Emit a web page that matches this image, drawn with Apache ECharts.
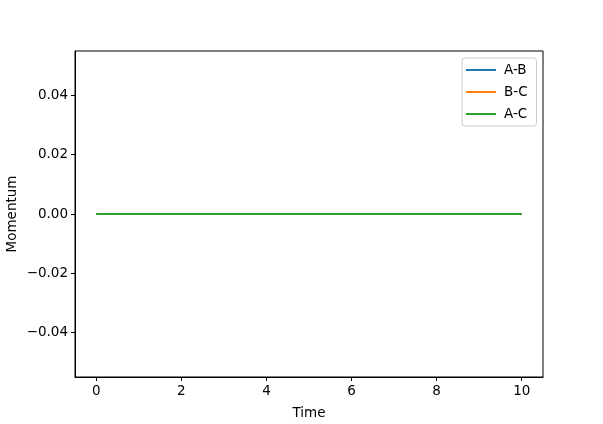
<!DOCTYPE html>
<html><head><meta charset="utf-8">
<script src="https://cdn.jsdelivr.net/npm/echarts@6/dist/echarts.min.js"></script>
<style>html,body{margin:0;padding:0;background:#fff}#c{width:603px;height:424px}</style>
</head><body><div id="c"></div>
<script>
const time = [0, 1, 2, 3, 4, 5, 6, 7, 8, 9, 10];
const momentumAB = [0, 0, 0, 0, 0, 0, 0, 0, 0, 0, 0];
const momentumBC = [0, 0, 0, 0, 0, 0, 0, 0, 0, 0, 0];
const momentumAC = [0, 0, 0, 0, 0, 0, 0, 0, 0, 0, 0];
const seriesNames = ['A-B', 'B-C', 'A-C'];
const xTicks = [0, 2, 4, 6, 8, 10];
const yTicks = [-0.04, -0.02, 0, 0.02, 0.04];
const colors = ['#1f77b4', '#ff7f0e', '#2ca02c'];
const font = 'DejaVu Sans';
const fs = 13.5;
const chart = echarts.init(document.getElementById('c'), null, {renderer: 'canvas'});
const data = [momentumAB, momentumBC, momentumAC];
chart.setOption({
  animation: false,
  textStyle: {fontFamily: font},
  grid: {left: 75, top: 51, width: 468, height: 326, containLabel: false, outerBoundsMode: 'none',
    show: true, borderColor: '#000', borderWidth: 1, backgroundColor: 'transparent'},
  legend: {
    orient: 'vertical', left: 462, top: 58,
    data: seriesNames.map((n, i) => ({name: n, icon: 'rect', itemStyle: {color: colors[i]}})),
    itemWidth: 30, itemHeight: 2, itemGap: 8,
    padding: [5, 9, 5, 4],
    borderColor: '#cccccc', borderWidth: 1, borderRadius: 3, backgroundColor: 'rgba(255,255,255,0.8)',
    textStyle: {fontFamily: font, fontSize: fs, color: '#000', padding: [0, 0, 0, 3]}
  },
  xAxis: {
    type: 'value', min: -0.5, max: 10.5,
    name: 'Time', nameLocation: 'middle', nameGap: 29, nameMoveOverlap: false,
    nameTextStyle: {fontFamily: font, fontSize: fs, color: '#000'},
    axisLine: {show: true, onZero: false, lineStyle: {color: '#000'}},
    axisTick: {show: true, length: 4, customValues: xTicks, lineStyle: {color: '#000'}},
    axisLabel: {customValues: xTicks, fontFamily: font, fontSize: fs, color: '#000', margin: 7},
    splitLine: {show: false}
  },
  yAxis: {
    type: 'value', min: -0.055, max: 0.055,
    name: 'Momentum', nameLocation: 'middle', nameGap: 56, nameMoveOverlap: false,
    nameTextStyle: {fontFamily: font, fontSize: fs, color: '#000'},
    axisLine: {show: true, onZero: false, lineStyle: {color: '#000'}},
    axisTick: {show: true, length: 4, customValues: yTicks, lineStyle: {color: '#000'}},
    axisLabel: {customValues: yTicks, fontFamily: font, fontSize: fs, color: '#000', margin: 7,
      formatter: v => v.toFixed(2).replace('-', '\u2212')},
    splitLine: {show: false}
  },
  series: seriesNames.map((n, i) => ({
    name: n, type: 'line', showSymbol: false, symbol: 'none',
    lineStyle: {color: colors[i], width: 2},
    itemStyle: {color: colors[i]},
    data: time.map((t, j) => [t, data[i][j]])
  }))
});
</script></body></html>
